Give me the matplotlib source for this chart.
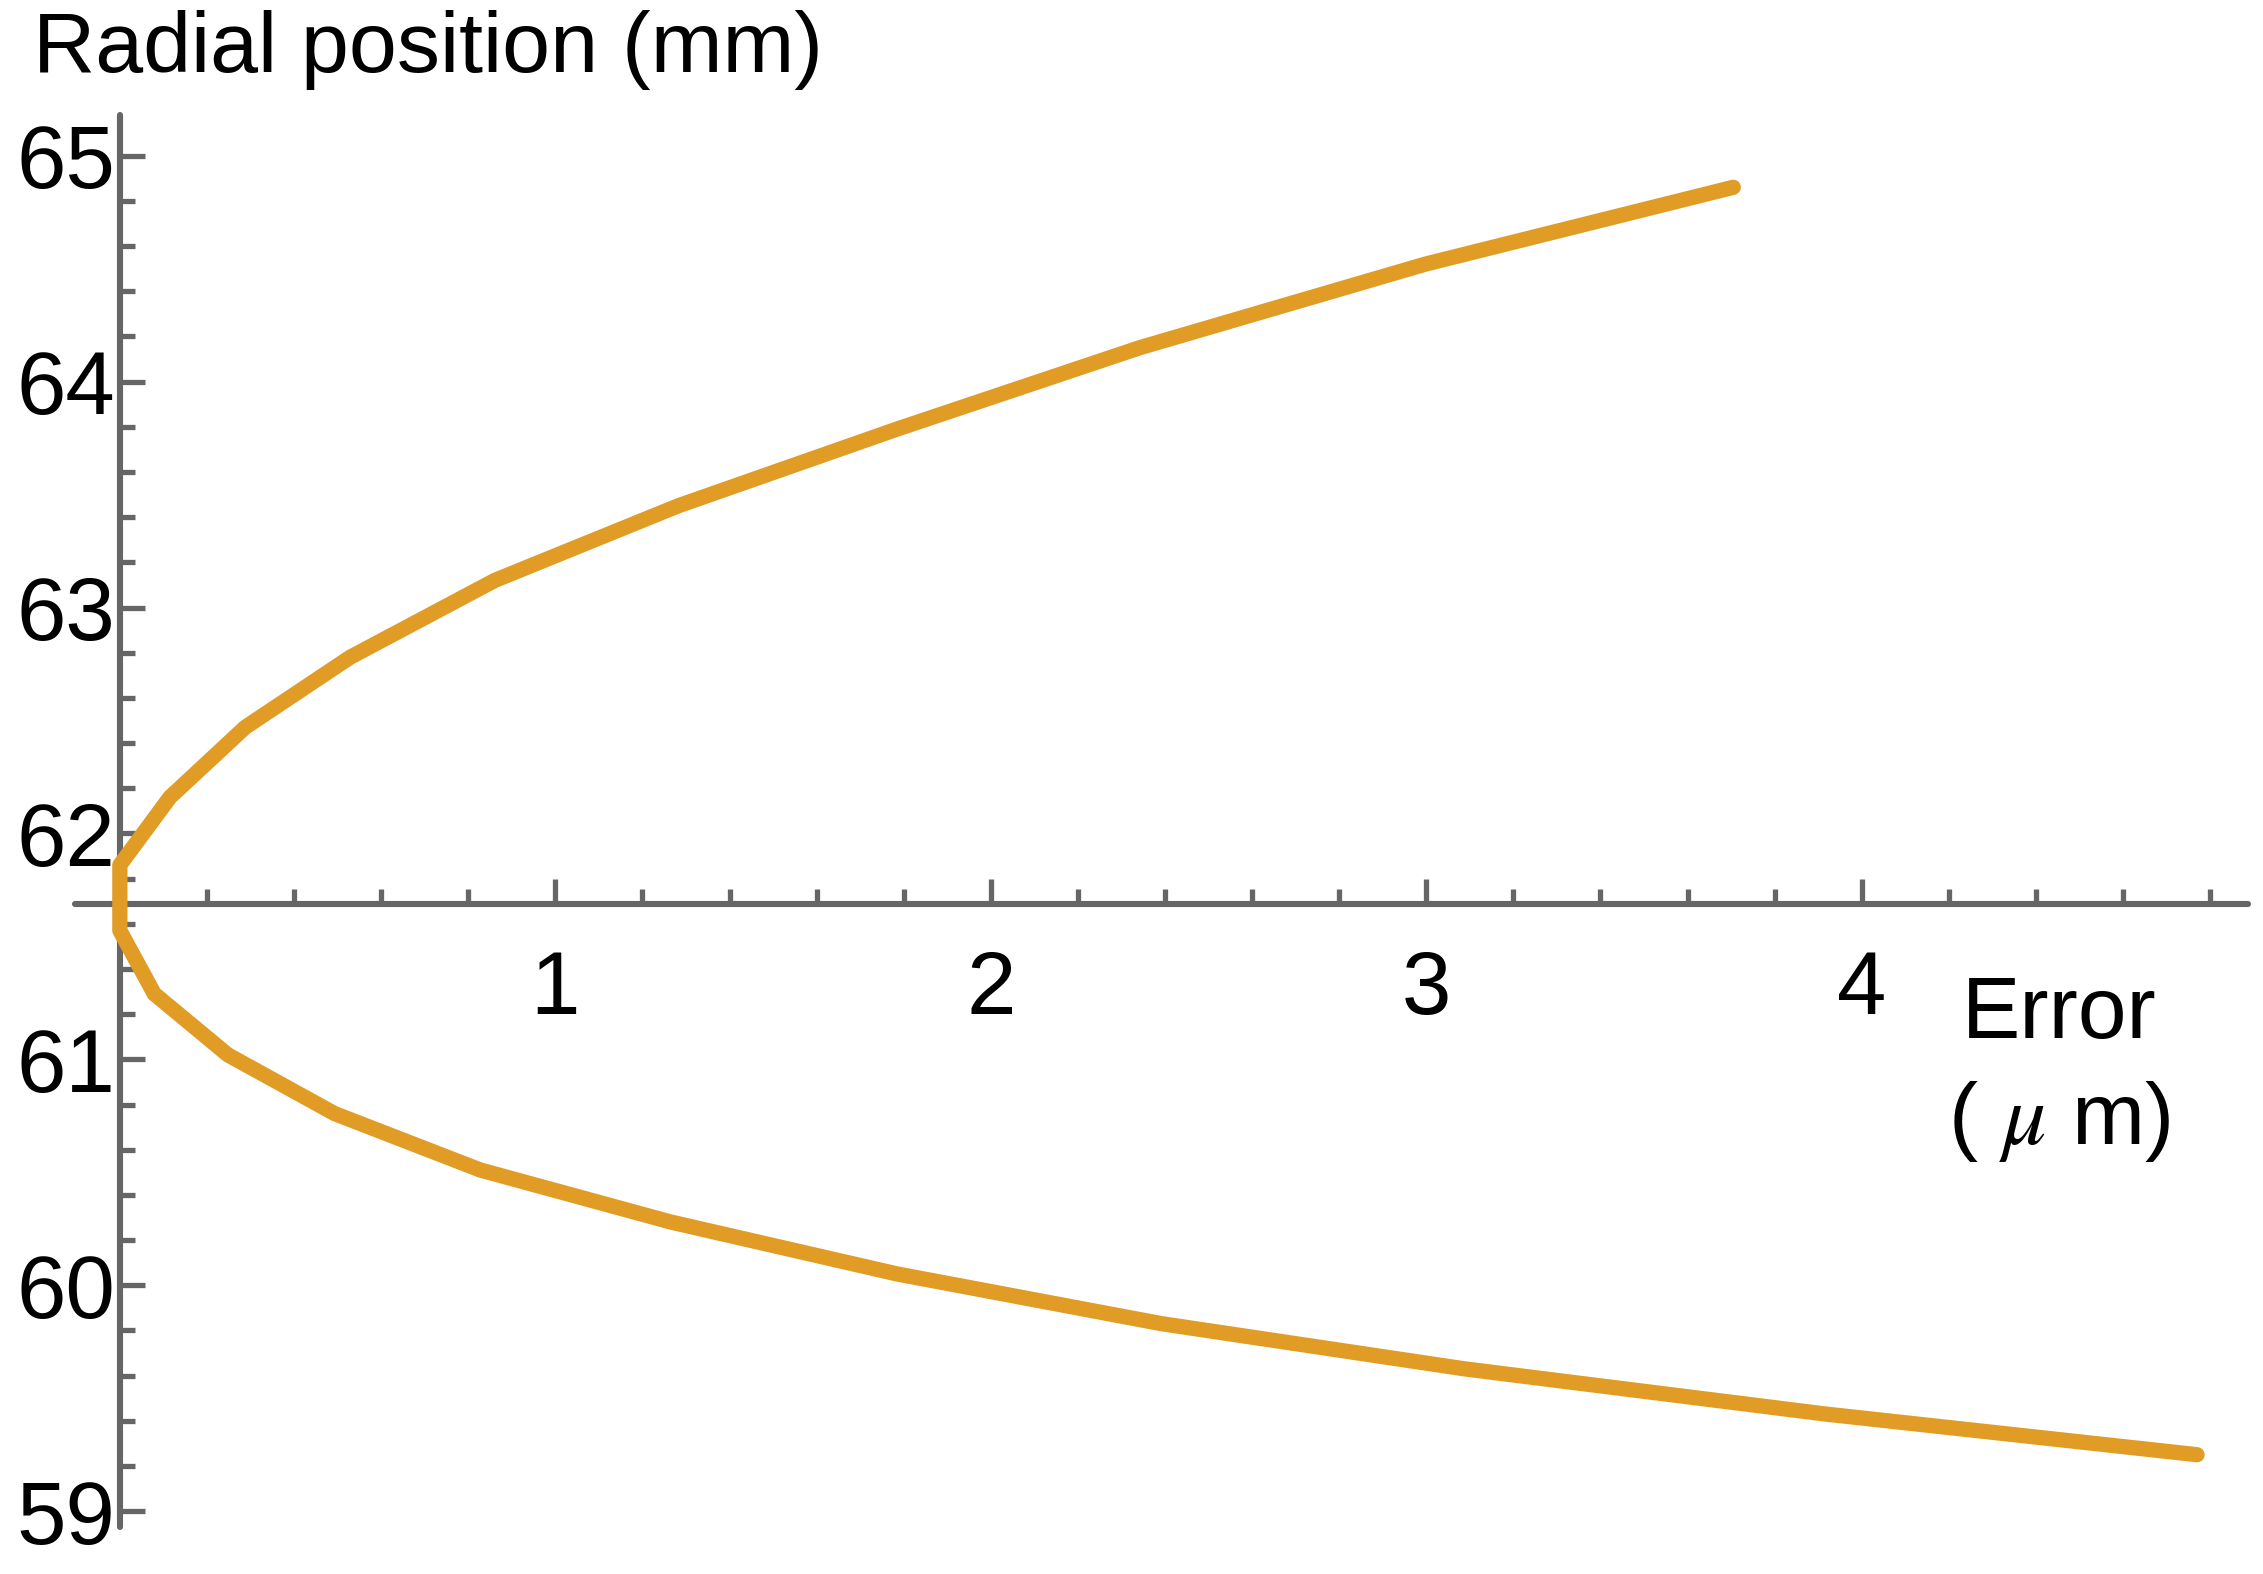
import matplotlib
matplotlib.use("Agg")
import matplotlib.pyplot as plt
from matplotlib.ticker import MultipleLocator

plt.rcParams['font.family'] = ['Liberation Sans', 'DejaVu Sans']
plt.rcParams['mathtext.fontset'] = 'stix'

# Data (Error in micrometres, radial position in mm)
upper_error = [0.0, 0.115, 0.288, 0.529, 0.861, 1.282, 1.785, 2.342, 2.998, 3.705]
upper_radius = [61.86, 62.16, 62.47, 62.78, 63.12, 63.45, 63.79, 64.15, 64.52, 64.86]
lower_error = [0.0, 0.079, 0.248, 0.493, 0.828, 1.265, 1.785, 2.392, 3.088, 3.917, 4.77]
lower_radius = [61.57, 61.29, 61.02, 60.76, 60.51, 60.28, 60.05, 59.83, 59.63, 59.43, 59.25]

x_major = [1, 2, 3, 4]
y_major = [59, 60, 61, 62, 63, 64, 65]

title_text = "Radial position (mm)"
xlabel_line1 = "Error"
xlabel_line2 = "( $\\mu$ m)"

W, H = 2263, 1574
fig = plt.figure(figsize=(W / 100, H / 100), dpi=100)

x_lo, x_hi = -0.103, 4.887
y_lo, y_hi = 58.93, 65.18
px_left, px_right = 75, 2248
px_top, px_bot = 115, 1527
ax = fig.add_axes([px_left / W, 1 - px_bot / H, (px_right - px_left) / W, (px_bot - px_top) / H])
ax.set_xlim(x_lo, x_hi)
ax.set_ylim(y_lo, y_hi)

orange = '#E09C24'
curve_x = lower_error[::-1] + upper_error
curve_y = lower_radius[::-1] + upper_radius
ax.plot(curve_x, curve_y, color=orange, lw=11, solid_capstyle='round',
        solid_joinstyle='round', zorder=3, clip_on=False)

gray = '#666666'
for s in ['top', 'right']:
    ax.spines[s].set_visible(False)
ax.spines['left'].set_position(('data', 0))
ax.spines['bottom'].set_position(('data', 61.686))
for s in ['left', 'bottom']:
    ax.spines[s].set_color(gray)
    ax.spines[s].set_linewidth(4.4)
    ax.spines[s].set_capstyle('round')
    ax.spines[s].set_zorder(2)

ax.set_xticks(x_major)
ax.set_xticklabels([str(v) for v in x_major])
ax.set_yticks(y_major)
ax.set_yticklabels([str(v) for v in y_major])
ax.xaxis.set_minor_locator(MultipleLocator(0.2))
ax.yaxis.set_minor_locator(MultipleLocator(0.2))

ax.tick_params(which='both', direction='in', color=gray, width=3.8)
ax.tick_params(which='major', length=18, labelsize=64)
ax.tick_params(which='minor', length=11)
ax.tick_params(axis='x', which='major', pad=32)
ax.tick_params(axis='y', which='major', pad=3)

fig.text(33 / W, 1 - 72 / H, title_text, fontsize=62, ha='left', va='baseline')
fig.text(2059 / W, 1 - 1038 / H, xlabel_line1, fontsize=63, ha='center', va='baseline')
fig.text(2059 / W, 1 - 1144 / H, xlabel_line2, fontsize=63, ha='center', va='baseline')

fig.savefig('out.png', dpi=100, facecolor='white')
